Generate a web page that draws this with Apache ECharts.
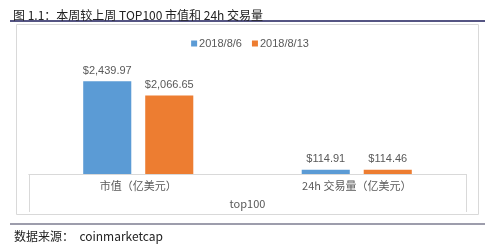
<!DOCTYPE html>
<html>
<head>
<meta charset="utf-8">
<script src="https://cdn.jsdelivr.net/npm/echarts@6/dist/echarts.min.js"></script>
<style>
  html, body { margin: 0; padding: 0; background: #fff; }
  #chart { width: 500px; height: 244px; }
</style>
</head>
<body>
<div id="chart"></div>
<script>
// 数据
const categories = ["市值（亿美元）", "24h 交易量（亿美元）"];
const groupLabel = ["top100"];
const week1 = [2439.97, 114.91];   // 2018/8/6
const week2 = [2066.65, 114.46];   // 2018/8/13
const seriesNames = ["2018/8/6", "2018/8/13"];

const chart = echarts.init(document.getElementById("chart"));
const font = "'Noto Sans CJK SC', 'Noto Sans', sans-serif";
const gray = "#595959";

function money(v) {
    return "$" + v.toLocaleString("en-US", { minimumFractionDigits: 2, maximumFractionDigits: 2 });
}

chart.setOption({
    animation: false,
    textStyle: { fontFamily: font },
    title: {
        text: "图 1.1：本周较上周 TOP100 市值和 24h 交易量",
        left: 8, top: 4,
        textStyle: { fontSize: 12, fontWeight: "normal", color: "#222", fontFamily: font }
    },
    legend: {
        data: seriesNames,
        top: 33, left: "center",
        itemWidth: 6, itemHeight: 6, itemGap: 10,
        icon: "rect",
        textStyle: { fontSize: 11, color: gray, fontFamily: "Liberation Sans, sans-serif", padding: [0, 0, 0, -3] }
    },
    grid: { left: 29, right: 34, top: 60, bottom: 70 },
    xAxis: [
        {
            type: "category",
            data: categories,
            axisLine: { lineStyle: { color: "#d9d9d9" } },
            axisTick: { show: false },
            axisLabel: { color: gray, fontSize: 11, margin: 6 }
        },
        {
            type: "category",
            data: groupLabel,
            position: "bottom",
            axisLine: { lineStyle: { color: "#d9d9d9" } },
            axisTick: { show: true, length: 38, lineStyle: { color: "#d9d9d9" } },
            axisLabel: { color: gray, fontSize: 11, margin: 24 }
        }
    ],
    yAxis: { type: "value", min: 0, max: 3000, show: false },
    series: [
        {
            name: seriesNames[0], type: "bar", data: week1,
            xAxisIndex: 0,
            barWidth: "22%", barGap: "29%",
            itemStyle: { color: "#5B9BD5" },
            label: { show: true, position: "top", distance: 5, color: gray, fontSize: 11,
                     fontFamily: "Liberation Sans, sans-serif", formatter: p => money(p.value) }
        },
        {
            name: seriesNames[1], type: "bar", data: week2,
            xAxisIndex: 0,
            barWidth: "22%", barGap: "29%",
            itemStyle: { color: "#ED7D31" },
            label: { show: true, position: "top", distance: 5, color: gray, fontSize: 11,
                     fontFamily: "Liberation Sans, sans-serif", formatter: p => money(p.value) }
        }
    ],
    graphic: [
        // 图框
        { type: "rect", shape: { x: 16.5, y: 24.5, width: 462, height: 190 },
          style: { fill: "none", stroke: "#d9d9d9", lineWidth: 1 }, z: -1 },
        // 标题下划线
        { type: "line", shape: { x1: 10, y1: 21, x2: 485, y2: 21 },
          style: { stroke: "#1c1c5a", lineWidth: 1.5 } },
        // 底部分隔线
        { type: "line", shape: { x1: 10, y1: 224, x2: 485, y2: 224 },
          style: { stroke: "#3c3c5a", lineWidth: 1.2 } },
        { type: "text", left: 14, top: 230,
          style: { text: "数据来源：  coinmarketcap", fontSize: 12, fill: "#222", fontFamily: font } }
    ]
});
</script>
</body>
</html>
